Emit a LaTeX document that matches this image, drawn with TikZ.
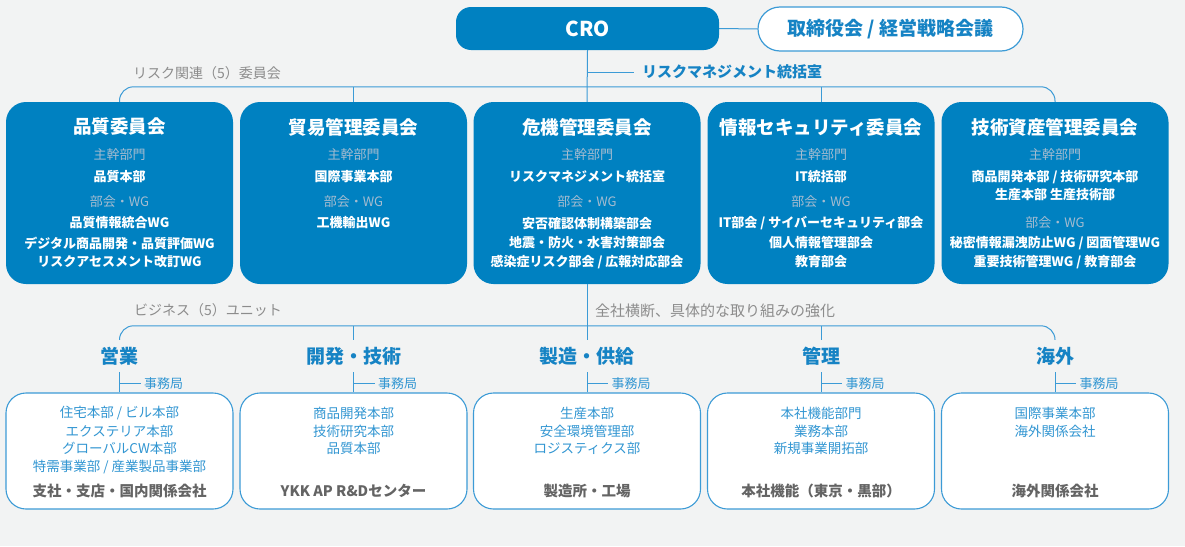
\documentclass[tikz,border=0pt]{standalone}
\usepackage{fontspec}
\setmainfont{Noto Sans CJK JP}
\definecolor{cblue}{RGB}{0,129,193}
\definecolor{lineblue}{RGB}{60,155,214}
\definecolor{subgray}{RGB}{165,188,208}
\definecolor{txtblue}{RGB}{50,150,210}
\definecolor{unitblue}{RGB}{22,131,196}
\definecolor{labgray}{RGB}{140,140,140}
\definecolor{botgray}{RGB}{100,100,100}
\definecolor{bgcol}{RGB}{242,243,243}
\newcommand{\fs}[1]{\fontsize{#1}{#1}\selectfont}
\begin{document}
\begin{tikzpicture}[x=1pt,y=-1pt,
  conn/.style={draw=lineblue,line width=1pt},
  cbox/.style={fill=cblue,rounded corners=20pt,minimum width=227pt,minimum height=182pt,inner sep=0pt},
  bbox/.style={fill=white,draw=lineblue,line width=1.1pt,rounded corners=20pt,minimum width=227pt,minimum height=116pt,inner sep=0pt},
  ttl/.style={text=white,font=\bfseries\fs{18.5},inner sep=0pt},
  sub/.style={text=subgray,font=\fs{13},inner sep=0pt},
  itm/.style={text=white,font=\bfseries\fs{13},inner sep=0pt},
  unit/.style={text=unitblue,font=\bfseries\fs{19},minimum height=32pt,inner sep=0pt},
  jim/.style={text=txtblue,font=\fs{13},inner sep=3pt,anchor=west},
  bl/.style={text=txtblue,font=\fs{13.5},inner sep=0pt},
  bg/.style={text=botgray,font=\bfseries\fs{14.5},inner sep=0pt},
  lab/.style={text=labgray,font=\fs{14},inner sep=0pt,anchor=west}
]
\fill[bgcol] (0,0) rectangle (1185,546);
\useasboundingbox (0,0) rectangle (1185,546);

% top
\node[fill=cblue,rounded corners=15pt,minimum width=263pt,minimum height=43pt,inner sep=0pt,text=white,font=\bfseries\fs{20.5}] (cro) at (587.5,28.5) {CRO};
\node[fill=white,draw=lineblue,line width=1.2pt,rounded corners=22pt,minimum width=265pt,minimum height=44pt,inner sep=0pt,text=unitblue,font=\bfseries\fs{19}] (board) at (890.5,29) {取締役会 / 経営戦略会議};
\node[text=unitblue,font=\bfseries\fs{15},inner sep=0pt,anchor=west] (rmo) at (642,72) {リスクマネジメント統括室};
\node[lab] (lab1) at (133,73) {リスク関連（5）委員会};

% committees
\node[cbox] (c1) at (119.5,193) {};
\node[cbox] (c2) at (353.5,193) {};
\node[cbox] (c3) at (587,193) {};
\node[cbox] (c4) at (821,193) {};
\node[cbox] (c5) at (1055,193) {};

\node[ttl] (c1t) at (119.5,127) {品質委員会};
\node[sub] (c1s) at (119.5,155) {主幹部門};
\node[itm] (c1a) at (119.5,177) {品質本部};
\node[sub] (c1w) at (119.5,202) {部会・WG};
\node[itm] (c1b) at (119.5,223) {品質情報統合WG};
\node[itm] (c1c) at (119.5,243) {デジタル商品開発・品質評価WG};
\node[itm] (c1d) at (119.5,262) {リスクアセスメント改訂WG};

\node[ttl] (c2t) at (353.5,127) {貿易管理委員会};
\node[sub] (c2s) at (353.5,155) {主幹部門};
\node[itm] (c2a) at (353.5,177) {国際事業本部};
\node[sub] (c2w) at (353.5,202) {部会・WG};
\node[itm] (c2b) at (353.5,223) {工機輸出WG};

\node[ttl] (c3t) at (587,127) {危機管理委員会};
\node[sub] (c3s) at (587,155) {主幹部門};
\node[itm] (c3a) at (587,177) {リスクマネジメント統括室};
\node[sub] (c3w) at (587,202) {部会・WG};
\node[itm] (c3b) at (587,223) {安否確認体制構築部会};
\node[itm] (c3c) at (587,243) {地震・防火・水害対策部会};
\node[itm] (c3d) at (587,262) {感染症リスク部会 / 広報対応部会};

\node[ttl] (c4t) at (821,127) {情報セキュリティ委員会};
\node[sub] (c4s) at (821,155) {主幹部門};
\node[itm] (c4a) at (821,177) {IT統括部};
\node[sub] (c4w) at (821,202) {部会・WG};
\node[itm] (c4b) at (821,223) {IT部会 / サイバーセキュリティ部会};
\node[itm] (c4c) at (821,243) {個人情報管理部会};
\node[itm] (c4d) at (821,262) {教育部会};

\node[ttl] (c5t) at (1055,127) {技術資産管理委員会};
\node[sub] (c5s) at (1055,155) {主幹部門};
\node[itm] (c5a) at (1055,177) {商品開発本部 / 技術研究本部};
\node[itm] (c5b) at (1055,195) {生産本部 生産技術部};
\node[sub] (c5w) at (1055,223) {部会・WG};
\node[itm] (c5c) at (1055,243) {秘密情報漏洩防止WG / 図面管理WG};
\node[itm] (c5d) at (1055,262) {重要技術管理WG / 教育部会};

% top connectors
\draw[conn] (cro.east) -- (board.west);
\draw[conn] (cro.south) -- (c3.north);
\draw[conn] (cro.south |- rmo.west) -- ([xshift=-8pt]rmo.west);
\draw[conn,rounded corners=14pt] (c1.north) -- ++(0,-15) -| (c5.north);
\draw[conn] (c2.north) -- ++(0,-15);
\draw[conn] (c4.north) -- ++(0,-15);

% business units
\node[lab] (lab2) at (134,310) {ビジネス（5）ユニット};
\node[lab,font=\fs{15}] (lab3) at (595,311) {全社横断、具体的な取り組みの強化};

\node[unit] (u1) at (119.5,356) {営業};
\node[unit] (u2) at (353.5,356) {開発・技術};
\node[unit] (u3) at (587,356) {製造・供給};
\node[unit] (u4) at (821,356) {管理};
\node[unit] (u5) at (1055,356) {海外};

\draw[conn,rounded corners=14pt] (u1.north) -- ++(0,-14) -| (u5.north);
\draw[conn] (u2.north) -- ++(0,-14);
\draw[conn] (u4.north) -- ++(0,-14);
\draw[conn] (c3.south) -- (u3.north);

% bottom boxes
\node[bbox] (k1) at (119.5,451) {};
\node[bbox] (k2) at (353.5,451) {};
\node[bbox] (k3) at (587,451) {};
\node[bbox] (k4) at (821,451) {};
\node[bbox] (k5) at (1055,451) {};

\foreach \i in {1,...,5}{
  \draw[conn] (u\i.south) -- (k\i.north);
  \draw[conn] ([yshift=-11pt]u\i.south) -- ++(21,0) node[jim] (j\i) {事務局};
}

\node[bl] (k1a) at (119.5,413) {住宅本部 / ビル本部};
\node[bl] (k1b) at (119.5,431) {エクステリア本部};
\node[bl] (k1c) at (119.5,448) {グローバルCW本部};
\node[bl] (k1d) at (119.5,467) {特需事業部 / 産業製品事業部};
\node[bg] (k1e) at (119.5,491) {支社・支店・国内関係会社};

\node[bl] (k2a) at (353.5,413) {商品開発本部};
\node[bl] (k2b) at (353.5,431) {技術研究本部};
\node[bl] (k2c) at (353.5,448) {品質本部};
\node[bg] (k2e) at (353.5,491) {YKK AP R\&Dセンター};

\node[bl] (k3a) at (587,413) {生産本部};
\node[bl] (k3b) at (587,431) {安全環境管理部};
\node[bl] (k3c) at (587,448) {ロジスティクス部};
\node[bg] (k3e) at (587,491) {製造所・工場};

\node[bl] (k4a) at (821,413) {本社機能部門};
\node[bl] (k4b) at (821,431) {業務本部};
\node[bl] (k4c) at (821,448) {新規事業開拓部};
\node[bg] (k4e) at (821,491) {本社機能（東京・黒部）};

\node[bl] (k5a) at (1055,413) {国際事業本部};
\node[bl] (k5b) at (1055,431) {海外関係会社};
\node[bg] (k5e) at (1055,491) {海外関係会社};
\end{tikzpicture}
\end{document}
